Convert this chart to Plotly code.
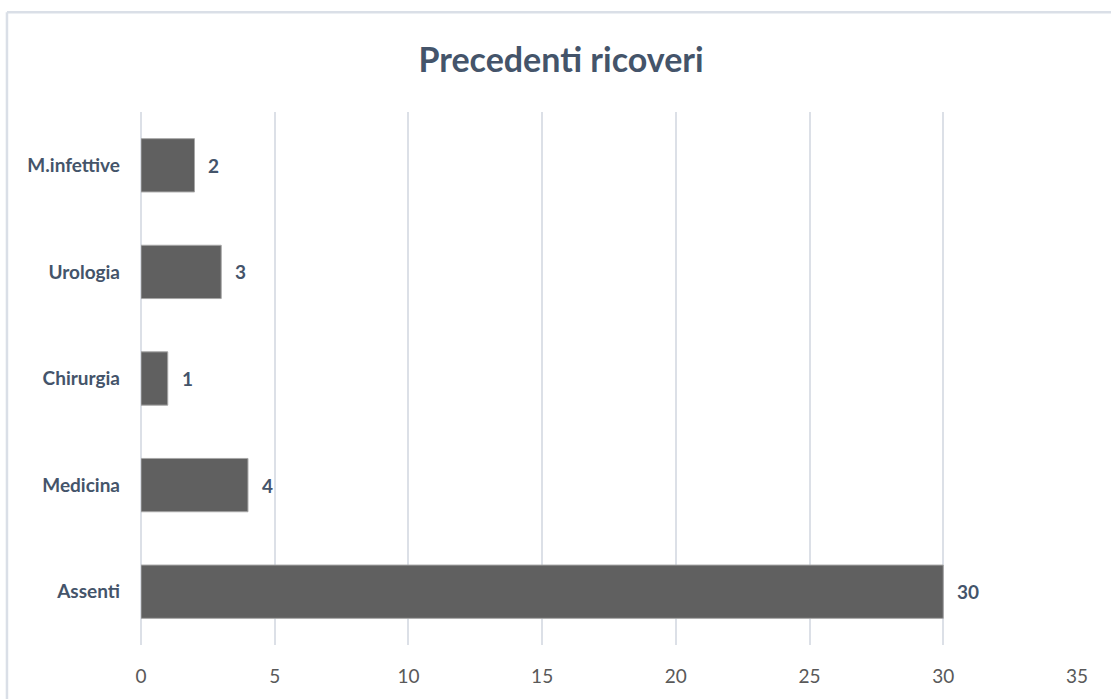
import plotly.graph_objects as go

# Reparti di provenienza (precedenti ricoveri) e numero di pazienti
categories = ["Assenti", "Medicina", "Chirurgia", "Urologia", "M.infettive"]
counts = [30, 4, 1, 3, 2]
x_ticks = [0, 5, 10, 15, 20, 25, 30, 35]

TEXT = "#44546A"
GRID = "#DCE0E7"
FONT = "Lato, 'Open Sans', sans-serif"

fig = go.Figure()
fig.add_trace(go.Bar(
    x=counts,
    y=categories,
    orientation="h",
    marker=dict(color="#606060", line=dict(color="#A6A6A6", width=1)),
    width=0.5,
    hoverinfo="x+y",
))

# Value labels just to the right of each bar
for c, v in zip(categories, counts):
    fig.add_annotation(
        x=v, y=c, text=f"<b>{v}</b>", showarrow=False,
        xanchor="left", yanchor="middle", xshift=12,
        font=dict(family=FONT, size=19, color=TEXT),
    )

# Chart frame (top and left edges)
fig.add_shape(type="line", xref="paper", yref="paper",
              x0=-0.1432, x1=1.2, y0=1.187, y1=1.187,
              line=dict(color="#DADFE7", width=2.5))
fig.add_shape(type="line", xref="paper", yref="paper",
              x0=-0.1432, x1=-0.1432, y0=-0.2, y1=1.187,
              line=dict(color="#DADFE7", width=2.5))

fig.update_layout(
    width=1111, height=699,
    margin=dict(l=141, r=34, t=112, b=52),
    paper_bgcolor="white", plot_bgcolor="white",
    showlegend=False,
    title=dict(
        text="<b>Precedenti ricoveri</b>",
        x=0.505, xref="container", xanchor="center",
        y=0.914, yref="container", yanchor="middle",
        font=dict(family=FONT, size=34, color=TEXT),
    ),
    xaxis=dict(
        range=[0, 35], tickvals=x_ticks, ticktext=[str(t) for t in x_ticks],
        showgrid=True, gridcolor=GRID, gridwidth=1.5,
        zeroline=True, zerolinecolor=GRID, zerolinewidth=1.5,
        showline=False, ticks="", ticklabelstandoff=18,
        tickfont=dict(family=FONT, size=19, color="#595959"),
        fixedrange=True,
    ),
    yaxis=dict(
        categoryorder="array", categoryarray=categories,
        range=[-0.5, 4.5],
        showgrid=False, zeroline=False, showline=False, ticks="",
        ticklabelstandoff=20,
        tickfont=dict(family=FONT, size=19, color=TEXT, weight="bold"),
        fixedrange=True,
    ),
)

fig.write_html("out.html")
